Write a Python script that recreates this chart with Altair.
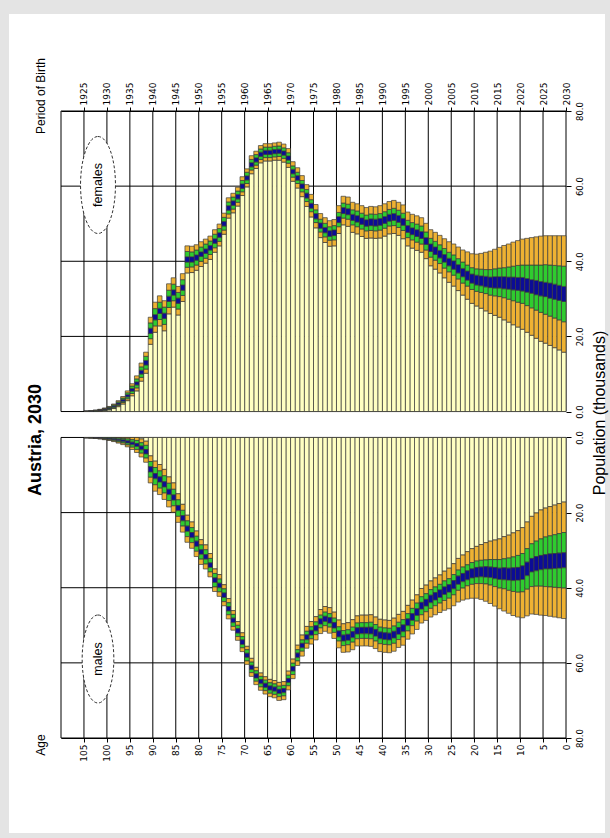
import altair as alt
import pandas as pd

# ---------------- data ----------------
ages = list(range(0, 105))

female_median = [
    31.3, 31.6, 31.9, 32.2, 32.5, 32.7, 33.0, 33.3, 33.6, 33.9,
    34.0, 34.1, 34.2, 34.3, 34.4, 34.4, 34.4, 34.6, 34.8, 35.0,
    35.4, 36.2, 37.0, 38.0, 39.0, 39.8, 40.8, 41.9, 42.8, 43.6,
    45.4, 47.0, 47.5, 48.0, 48.6, 50.5, 51.3, 51.8, 51.6, 51.0,
    50.5, 50.3, 50.4, 50.2, 50.7, 51.3, 51.7, 53.2, 53.5, 51.1,
    47.6, 47.4, 48.3, 49.5, 52.0, 54.8, 57.5, 60.0, 62.2, 63.9,
    67.5, 68.8, 69.3, 69.2, 69.0, 69.0, 68.5, 67.0, 65.7, 62.2,
    60.0, 57.2, 55.5, 54.2, 50.0, 47.0, 45.4, 43.6, 42.7, 41.9,
    41.0, 40.5, 40.5, 33.0, 29.5, 31.7, 30.0, 25.5, 26.8, 25.1,
    21.5, 13.0, 10.5, 7.5, 5.8, 4.2, 3.0, 2.1, 1.4, 0.9,
    0.6, 0.35, 0.2, 0.1, 0.05,
]

male_median = [
    32.7, 32.8, 32.9, 33.0, 33.1, 33.3, 33.6, 34.0, 35.0, 36.0,
    36.3, 36.4, 36.4, 36.3, 36.3, 36.1, 35.9, 35.8, 35.8, 35.9,
    36.2, 36.7, 37.3, 38.0, 39.2, 40.2, 40.8, 41.6, 42.3, 43.0,
    44.0, 44.8, 46.5, 47.8, 49.2, 50.8, 51.5, 52.5, 53.0, 52.9,
    52.7, 52.0, 51.4, 51.4, 51.4, 51.5, 52.5, 53.2, 53.4, 52.3,
    50.0, 48.7, 48.3, 49.0, 50.8, 52.0, 53.2, 55.4, 58.0, 61.6,
    64.7, 67.4, 67.6, 67.0, 66.7, 66.0, 65.0, 63.5, 61.2, 58.0,
    54.5, 51.5, 48.7, 45.6, 42.0, 39.4, 38.0, 34.0, 31.8, 30.5,
    28.3, 26.0, 24.3, 21.5, 18.8, 16.0, 14.5, 12.5, 11.2, 10.3,
    8.5, 3.8, 2.8, 2.0, 1.6, 1.2, 0.9, 0.7, 0.5, 0.35,
    0.25, 0.15, 0.1, 0.05, 0.03,
]

# half-widths of the 95% (orange), 80% (green) and 50% (blue) bands
orange_hw = [
    15.5, 15.2, 14.9, 14.6, 14.3, 14.0, 13.5, 13.0, 12.5, 12.0,
    11.5, 11.0, 10.4, 9.9, 9.3, 8.8, 8.3, 7.8, 7.3, 6.9,
    6.6, 6.3, 6.0, 5.8, 5.6, 5.4, 5.2, 5.0, 4.9, 4.8,
    4.7, 4.6, 4.6, 4.5, 4.5, 4.5, 4.4, 4.4, 4.3, 4.3,
    4.3, 4.2, 4.2, 4.1, 4.1, 4.0, 4.0, 3.9, 3.8, 3.7,
    3.5, 3.4, 3.3, 3.2, 3.1, 3.0, 2.9, 2.8, 2.7, 2.6,
    2.5, 2.4, 2.4, 2.3, 2.3, 2.3, 2.3, 2.3, 2.4, 2.4,
    2.5, 2.5, 2.6, 2.7, 2.8, 2.9, 3.0, 3.1, 3.2, 3.3,
    3.4, 3.5, 3.6, 3.7, 3.8, 3.9, 4.0, 4.0, 4.0, 4.0,
    3.6, 2.8, 2.4, 2.0, 1.6, 1.3, 1.0, 0.8, 0.6, 0.45,
    0.35, 0.25, 0.18, 0.12, 0.08,
]
green_hw = [
    7.4, 7.2, 7.0, 6.8, 6.6, 6.3, 6.0, 5.7, 5.4, 5.1,
    4.9, 4.6, 4.3, 4.0, 3.8, 3.6, 3.4, 3.2, 3.1, 3.0,
    2.9, 2.8, 2.8, 2.7, 2.7, 2.6, 2.6, 2.5, 2.5, 2.5,
    2.4, 2.4, 2.4, 2.3, 2.3, 2.3, 2.3, 2.3, 2.2, 2.2,
    2.2, 2.2, 2.2, 2.1, 2.1, 2.1, 2.0, 2.0, 2.0, 1.9,
    1.9, 1.8, 1.8, 1.7, 1.7, 1.6, 1.6, 1.5, 1.5, 1.5,
    1.4, 1.4, 1.4, 1.4, 1.4, 1.4, 1.4, 1.4, 1.4, 1.5,
    1.5, 1.5, 1.6, 1.6, 1.7, 1.7, 1.8, 1.8, 1.9, 1.9,
    2.0, 2.0, 2.1, 2.1, 2.2, 2.2, 2.3, 2.3, 2.3, 2.3,
    2.1, 1.7, 1.4, 1.2, 1.0, 0.8, 0.6, 0.5, 0.4, 0.3,
    0.22, 0.16, 0.12, 0.08, 0.05,
]
blue_hw = [
    2.0, 2.0, 2.0, 2.0, 1.9, 1.9, 1.9, 1.8, 1.8, 1.8,
    1.7, 1.7, 1.6, 1.6, 1.5, 1.5, 1.4, 1.4, 1.3, 1.3,
    1.2, 1.2, 1.1, 1.1, 1.1, 1.0, 1.0, 1.0, 1.0, 1.0,
    0.9, 0.9, 0.9, 0.9, 0.9, 0.9, 0.9, 0.9, 0.9, 0.9,
    0.9, 0.9, 0.9, 0.85, 0.85, 0.85, 0.8, 0.8, 0.8, 0.8,
    0.75, 0.75, 0.7, 0.7, 0.7, 0.65, 0.65, 0.6, 0.6, 0.6,
    0.55, 0.55, 0.55, 0.55, 0.55, 0.55, 0.55, 0.55, 0.55, 0.55,
    0.6, 0.6, 0.6, 0.6, 0.6, 0.6, 0.6, 0.6, 0.6, 0.6,
    0.7, 0.7, 0.7, 0.7, 0.7, 0.7, 0.7, 0.7, 0.7, 0.7,
    0.7, 0.6, 0.5, 0.4, 0.35, 0.3, 0.25, 0.2, 0.15, 0.12,
    0.1, 0.08, 0.06, 0.04, 0.03,
]

age_ticks = list(range(0, 110, 5))      # labelled ticks 0..105
grid_ages = list(range(0, 115, 5))      # vertical grid 0..110
pop_ticks = [0, 20, 40, 60, 80]
band_names = ["base", "outer", "inner", "median"]
band_colors = ["#FFFFC2", "#EEB233", "#2FCC2F", "#0C0C96"]

GAP = 6.9   # visual gap (in population units) between the two panels

# ---------------- tables ----------------
rows = []
for sex, med in (("females", female_median), ("males", male_median)):
    for a, m, o, g, b in zip(ages, med, orange_hw, green_hw, blue_hw):
        bounds = [0.0, m - o, m - g, m - b, m + b, m + g, m + o]
        bounds = [max(0.0, v) for v in bounds]
        seg = ["base", "outer", "inner", "median", "inner", "outer"]
        for i, band in enumerate(seg):
            lo, hi = bounds[i], bounds[i + 1]
            if hi - lo > 1e-9:
                rows.append({"sex": sex, "age": a, "lo": lo, "hi": hi, "band": band})
bars_df = pd.DataFrame(rows)

grid_df = pd.DataFrame(
    [{"panel": p, "age": a} for p in ("females", "males") for a in grid_ages]
)
hgrid_df = pd.DataFrame(
    [{"panel": p, "v": v} for p in ("females", "males") for v in pop_ticks]
)

y_values = [float(v) for v in pop_ticks] + [-GAP - v for v in pop_ticks]

x_scale = alt.Scale(domain=[0, 110], reverse=True, nice=False, zero=False)
y_scale = alt.Scale(domain=[-GAP - 80, 80], nice=False, zero=False)

LABEL_FONT = "DejaVu Sans"
TEXT_FONT = "Liberation Sans"

y_axis = alt.Axis(
    orient="right", values=y_values, title=None,
    labelExpr=f"format(abs(datum.value >= 0 ? datum.value : datum.value + {GAP}), '.1f')",
    labelAngle=270, labelAlign="center", labelBaseline="top",
    labelFont=LABEL_FONT, labelFontSize=8.5, labelColor="black",
    labelPadding=4, labelOverlap=False, labelFlush=False, labelBound=False,
    tickColor="black", tickSize=5, domain=False, grid=False,
)

# ---------------- layers ----------------
one = pd.DataFrame({"k": [0]})

W, H = 505, 627
PL, PT, PR, PB = 61, 111, 44, 100
frame_color = "#E4E4E4"
frame_top = alt.Chart(one).mark_rect(color=frame_color).encode(
    x=alt.value(-PL), x2=alt.value(W + PR), y=alt.value(-PT), y2=alt.value(-PT + 14))
frame_left = alt.Chart(one).mark_rect(color=frame_color).encode(
    x=alt.value(-PL), x2=alt.value(-PL + 9), y=alt.value(-PT), y2=alt.value(H + PB))
frame_bottom = alt.Chart(one).mark_rect(color=frame_color).encode(
    x=alt.value(-PL), x2=alt.value(W + PR), y=alt.value(H + PB - 5), y2=alt.value(H + PB))
frame_right = alt.Chart(one).mark_rect(color=frame_color).encode(
    x=alt.value(W + PR - 5), x2=alt.value(W + PR), y=alt.value(-PT), y2=alt.value(H + PB))

# horizontal grid lines (population ticks) in both panels, with the right axis
hgrid = alt.Chart(hgrid_df).transform_calculate(
    yv=f"datum.panel == 'females' ? datum.v : {-GAP} - datum.v",
).mark_rule(color="black", strokeWidth=1).encode(
    x=alt.value(0), x2=alt.value(W),
    y=alt.Y("yv:Q", scale=y_scale, axis=y_axis),
)

vgrid = alt.Chart(grid_df).transform_calculate(
    ytop=f"datum.panel == 'females' ? 80 : {-GAP}",
    ybot=f"datum.panel == 'females' ? 0 : {-GAP - 80}",
).mark_rule(color="black", strokeWidth=1).encode(
    x=alt.X("age:Q", scale=x_scale, axis=alt.Axis(
        orient="top", values=age_ticks, title=None,
        labelExpr="'' + (2030 - datum.value)",
        labelAngle=270, labelAlign="left", labelBaseline="middle",
        labelFont=LABEL_FONT, labelFontSize=9, labelColor="black",
        labelPadding=2, labelOverlap=False, labelFlush=False,
        tickColor="black", tickSize=4, domainColor="black", grid=False)),
    y=alt.Y("ytop:Q", scale=y_scale, axis=y_axis),
    y2="ybot:Q",
)

bars = alt.Chart(bars_df).transform_calculate(
    y0=f"datum.sex == 'females' ? datum.lo : {-GAP} - datum.lo",
    y1=f"datum.sex == 'females' ? datum.hi : {-GAP} - datum.hi",
    age_end="datum.age + 1",
).mark_rect(stroke="#3a3a3a", strokeWidth=0.7).encode(
    x=alt.X("age:Q", scale=x_scale, axis=alt.Axis(
        orient="bottom", values=age_ticks, title=None,
        labelAngle=270, labelAlign="right", labelBaseline="middle",
        labelFont=LABEL_FONT, labelFontSize=9, labelColor="black",
        labelPadding=2, labelOverlap=False, labelFlush=False,
        tickColor="black", tickSize=4, domainColor="black", grid=False)),
    x2="age_end:Q",
    y=alt.Y("y0:Q", scale=y_scale, axis=y_axis),
    y2="y1:Q",
    color=alt.Color("band:N", scale=alt.Scale(domain=band_names, range=band_colors), legend=None),
)

ellipse_path = ("M0,-1C0.2,-1,0.36,-0.552,0.36,0C0.36,0.552,0.2,1,0,1"
                "C-0.2,1,-0.36,0.552,-0.36,0C-0.36,-0.552,-0.2,-1,0,-1Z")

def ellipse(cx, cy, h):
    return alt.Chart(one).mark_point(
        shape=ellipse_path, size=h * h, filled=True, fill="white",
        stroke="#333333", strokeWidth=1, strokeDash=[3, 2], opacity=1,
    ).encode(x=alt.value(cx), y=alt.value(cy))

def label(txt, cx, cy, size, weight="normal", font=TEXT_FONT, align="center"):
    return alt.Chart(pd.DataFrame({"t": [txt]})).mark_text(
        angle=270, font=font, fontSize=size, fontWeight=weight,
        align=align, baseline="middle", color="black",
    ).encode(text="t:N", x=alt.value(cx), y=alt.value(cy))

annotations = [
    ellipse(37, 74, 97),
    label("females", 37, 74, 12.5),
    ellipse(37, 548, 88),
    label("males", 37, 548, 12.5),
    label("Austria, 2030", -25, 329, 18, weight="bold"),
    label("Period of Birth", -20, -15, 12),
    label("Age", -20, 634, 12),
    label("Population (thousands)", 539, 302, 16),
]

chart = alt.layer(
    frame_top, frame_left, frame_bottom, frame_right,
    hgrid, vgrid, bars, *annotations,
).resolve_axis(x="independent").properties(
    width=W, height=H,
    autosize=alt.AutoSizeParams(type="none"),
    padding={"left": PL, "top": PT, "right": PR, "bottom": PB},
    background="white",
).configure_view(stroke=None)

chart.save("out.html", embed_options={"renderer": "svg", "actions": False})
